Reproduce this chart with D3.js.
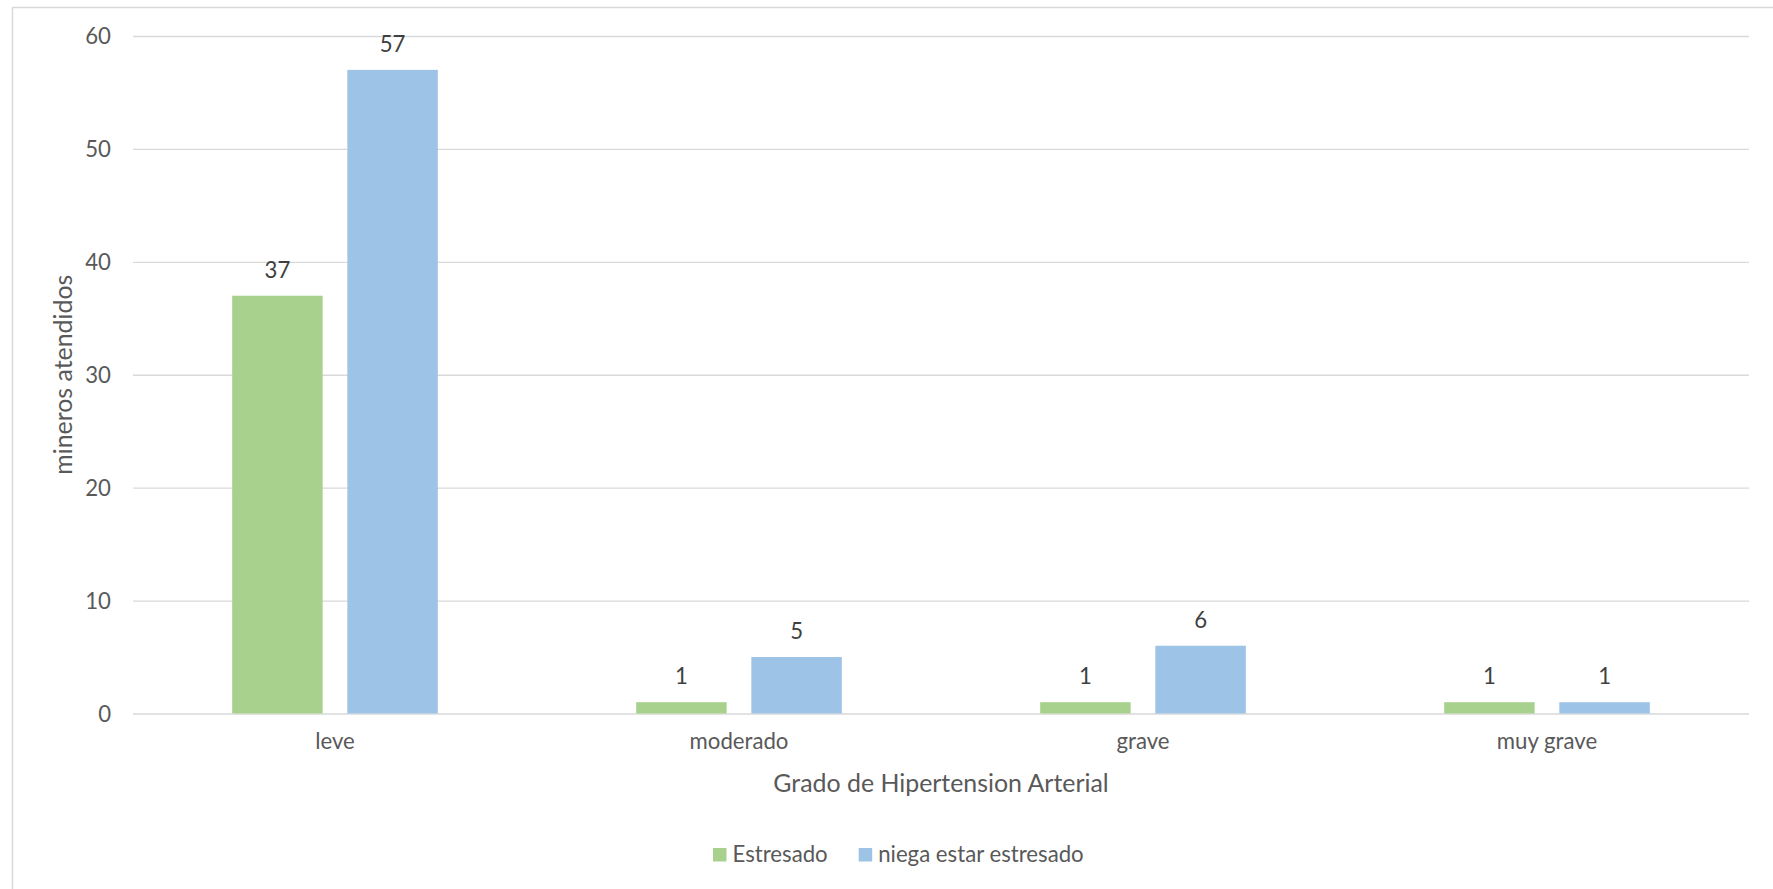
<!DOCTYPE html>
<html>
<head>
<meta charset="utf-8">
<script src="https://cdn.jsdelivr.net/npm/d3@7"></script>
<style>
  html, body { margin: 0; padding: 0; background: #fff; }
  svg { display: block; font-family: Lato, "Open Sans", sans-serif; }
</style>
</head>
<body>
<svg id="chart" width="1773" height="889"></svg>
<script>
// Hypertension grade per stress group
const categories = ["leve", "moderado", "grave", "muy grave"];
const seriesNames = ["Estresado", "niega estar estresado"];
const estresado = [37, 1, 1, 1];
const niegaEstresado = [57, 5, 6, 1];
const yTicks = [0, 10, 20, 30, 40, 50, 60];
const xTitle = "Grado de Hipertension Arterial";
const yTitle = "mineros atendidos";

const colors = ["#A9D18E", "#9DC3E6"];
const textColor = "#595959";
const gridColor = "#D9D9D9";
const font = "Lato, 'Open Sans', sans-serif";
const labelSize = 22.2;
const titleSize = 24.9;

const svg = d3.select("#chart");
const W = 1773, H = 889;
const plot = { left: 133, right: 1749, top: 36, bottom: 713.5 };

// chart area frame
svg.append("rect")
  .attr("x", 12.5).attr("y", 7.5)
  .attr("width", W).attr("height", H)
  .attr("fill", "#fff")
  .attr("stroke", gridColor).attr("stroke-width", 1.5);

const series = [estresado, niegaEstresado];
const rows = categories.map((c, i) => ({ cat: c, values: series.map((s, k) => ({ key: seriesNames[k], k, v: s[i] })) }));

const x0 = d3.scaleBand().domain(categories).range([plot.left, plot.right]).padding(0);
const x1 = d3.scaleBand().domain(seriesNames).range([0, x0.bandwidth()])
  .paddingInner(0.2144).paddingOuter(0.861);
const y = d3.scaleLinear().domain([0, 60]).range([plot.bottom, plot.top]);

// gridlines + y tick labels
const yAxis = svg.append("g")
  .attr("transform", `translate(${plot.left},0)`)
  .call(d3.axisLeft(y).tickValues(yTicks).tickSize(-(plot.right - plot.left)).tickPadding(22).tickFormat(d3.format("d")))
  .attr("font-family", font);
yAxis.select(".domain").remove();
yAxis.selectAll(".tick line").attr("stroke", gridColor).attr("stroke-width", 1.4);
yAxis.selectAll(".tick text")
  .attr("fill", textColor).attr("font-size", labelSize).attr("dy", "0.35em");

// category labels
const xAxis = svg.append("g")
  .attr("transform", `translate(0,${plot.bottom})`)
  .call(d3.axisBottom(x0).tickSize(0).tickPadding(20))
  .attr("font-family", font);
xAxis.select(".domain").remove();
xAxis.selectAll(".tick text").attr("fill", textColor).attr("font-size", labelSize);

// bars
const groups = svg.append("g").selectAll("g")
  .data(rows).join("g")
  .attr("transform", d => `translate(${x0(d.cat)},0)`);

groups.selectAll("rect")
  .data(d => d.values).join("rect")
  .attr("x", d => x1(d.key))
  .attr("width", x1.bandwidth())
  .attr("y", d => y(d.v))
  .attr("height", d => y(0) - y(d.v))
  .attr("fill", d => colors[d.k]);

// value labels
groups.selectAll("text.val")
  .data(d => d.values).join("text")
  .attr("class", "val")
  .attr("x", d => x1(d.key) + x1.bandwidth() / 2)
  .attr("y", d => y(d.v) - 18)
  .attr("text-anchor", "middle")
  .attr("fill", "#404040")
  .attr("font-size", labelSize)
  .text(d => d.v);

// axis titles
svg.append("text")
  .attr("x", (plot.left + plot.right) / 2).attr("y", 792)
  .attr("text-anchor", "middle")
  .attr("fill", textColor).attr("font-size", titleSize)
  .text(xTitle);

svg.append("text")
  .attr("transform", `translate(72,${(plot.top + plot.bottom) / 2}) rotate(-90)`)
  .attr("text-anchor", "middle")
  .attr("fill", textColor).attr("font-size", titleSize)
  .text(yTitle);

// legend
const legend = svg.append("g").attr("transform", "translate(713,848)");
const legendItems = legend.selectAll("g").data(seriesNames).join("g");
legendItems.append("rect")
  .attr("width", 13.5).attr("height", 13.5)
  .attr("fill", (d, i) => colors[i]);
legendItems.append("text")
  .attr("x", 19.5).attr("y", 14)
  .attr("fill", textColor).attr("font-size", labelSize)
  .text(d => d);
// lay out items side by side
let offset = 0;
legendItems.each(function () {
  d3.select(this).attr("transform", `translate(${offset},0)`);
  offset += this.getBBox().width + 31;
});
</script>
</body>
</html>
